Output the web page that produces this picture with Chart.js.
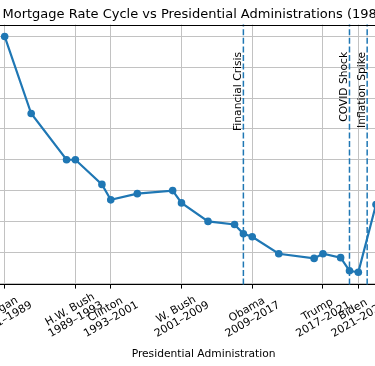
<!DOCTYPE html>
<html>
<head>
<meta charset="utf-8">
<script src="https://cdn.jsdelivr.net/npm/chart.js@4.4.1/dist/chart.umd.min.js"></script>
<style>
    html, body { margin: 0; padding: 0; background: #fff; }
    #frame { position: relative; width: 375px; height: 366px; overflow: hidden; }
    #holder { position: absolute; left: -40px; top: 0; width: 480px; height: 366px; }
</style>
</head>
<body>
<div id="frame"><div id="holder"><canvas id="chart"></canvas></div></div>
<script>
const chartTitle = 'Mortgage Rate Cycle vs Presidential Administrations (1981–2024)';
const axisTitle = 'Presidential Administration';

const years = [1981, 1984, 1988, 1989, 1992, 1993, 1996, 2000, 2001, 2004, 2007, 2008, 2009, 2012, 2016, 2017, 2019, 2020, 2021, 2023];
const rates = [18.0, 13.0, 10.0, 10.0, 8.4, 7.4, 7.8, 8.0, 7.2, 6.0, 5.8, 5.2, 5.0, 3.9, 3.6, 3.9, 3.65, 2.8, 2.7, 7.1];

const termStarts = [1981, 1989, 1993, 2001, 2009, 2017, 2021];
const termNames = ['Reagan', 'H.W. Bush', 'Clinton', 'W. Bush', 'Obama', 'Trump', 'Biden'];
const termSpans = ['1981–1989', '1989–1993', '1993–2001', '2001–2009', '2009–2017', '2017–2021', '2021–2025'];

const eventYears = [2008, 2020, 2022];
const eventLabels = ['Financial Crisis', 'COVID Shock', 'Inflation Spike'];
const eventLabelY = 17;

const rateTicks = [2, 4, 6, 8, 10, 12, 14, 16, 18];

const BLUE = '#1f77b4';
const FONT = '"DejaVu Sans", "Liberation Sans", sans-serif';
const OFFSET = 40; // canvas is shifted left inside the frame

Chart.defaults.font.family = FONT;

const overlay = {
    id: 'overlay',
    afterDatasetsDraw(chart) {
        const ctx = chart.ctx;
        const area = chart.chartArea;
        const xs = chart.scales.x;
        const ys = chart.scales.y;

        // event markers
        ctx.save();
        ctx.strokeStyle = BLUE;
        ctx.lineWidth = 1.5;
        ctx.setLineDash([6, 2.6]);
        eventYears.forEach(yr => {
            const px = xs.getPixelForValue(yr);
            ctx.beginPath();
            ctx.moveTo(px, area.bottom);
            ctx.lineTo(px, area.top);
            ctx.stroke();
        });
        ctx.restore();

        // event labels, rotated
        ctx.save();
        ctx.fillStyle = '#000';
        ctx.font = '10.7px ' + FONT;
        ctx.textAlign = 'right';
        ctx.textBaseline = 'alphabetic';
        eventYears.forEach((yr, i) => {
            const px = xs.getPixelForValue(yr);
            ctx.save();
            ctx.translate(px - 2.3, ys.getPixelForValue(eventLabelY));
            ctx.rotate(-Math.PI / 2);
            ctx.fillText(eventLabels[i], 0, 0);
            ctx.restore();
        });
        ctx.restore();
    },
    afterDraw(chart) {
        const ctx = chart.ctx;
        const area = chart.chartArea;
        const xs = chart.scales.x;

        // top spine
        ctx.save();
        ctx.strokeStyle = '#000';
        ctx.lineWidth = 1;
        ctx.beginPath();
        ctx.moveTo(area.left, Math.round(area.top) + 0.5);
        ctx.lineTo(area.right, Math.round(area.top) + 0.5);
        ctx.stroke();
        ctx.restore();

        // title
        ctx.save();
        ctx.fillStyle = '#000';
        ctx.font = '13px ' + FONT;
        ctx.textAlign = 'left';
        ctx.textBaseline = 'alphabetic';
        ctx.fillText(chartTitle, OFFSET + 2.5, 18.4);
        ctx.restore();

        // tick labels, rotated 30 degrees
        ctx.save();
        ctx.fillStyle = '#000';
        ctx.font = '10.9px ' + FONT;
        ctx.textAlign = 'center';
        ctx.textBaseline = 'alphabetic';
        termStarts.forEach((yr, i) => {
            const cx = xs.getPixelForValue(yr) - 2.5;
            const cy = area.bottom + 30;
            ctx.save();
            ctx.translate(cx, cy);
            ctx.rotate(-Math.PI / 6);
            ctx.fillText(termNames[i], 0, -2.8);
            ctx.fillText(termSpans[i], 0, 8.6);
            ctx.restore();
        });
        ctx.restore();

        // x axis title
        ctx.save();
        ctx.fillStyle = '#000';
        ctx.font = '10.7px ' + FONT;
        ctx.textAlign = 'center';
        ctx.textBaseline = 'alphabetic';
        ctx.fillText(axisTitle, (area.left + area.right) / 2, 356.5);
        ctx.restore();
    }
};

new Chart(document.getElementById('chart'), {
    type: 'line',
    data: {
        datasets: [{
            data: years.map((yr, i) => ({ x: yr, y: rates[i] })),
            borderColor: BLUE,
            backgroundColor: BLUE,
            borderWidth: 2.2,
            pointRadius: 3.8,
            pointBorderWidth: 0,
            pointBackgroundColor: BLUE,
            tension: 0
        }]
    },
    options: {
        responsive: true,
        maintainAspectRatio: false,
        animation: false,
        devicePixelRatio: 1,
        layout: { padding: { left: 26.1, right: 18.9, top: 24.6, bottom: 0 } },
        plugins: {
            legend: { display: false },
            tooltip: { enabled: false },
            title: { display: false }
        },
        scales: {
            x: {
                type: 'linear',
                min: 1978.9,
                max: 2028.1,
                afterBuildTicks: (scale) => {
                    scale.ticks = termStarts.map(v => ({ value: v }));
                },
                afterFit: (scale) => { scale.height = 366 - 284.6; },
                ticks: { display: false },
                grid: {
                    color: '#c2c2c2',
                    lineWidth: 1,
                    drawTicks: true,
                    tickLength: 4,
                    tickColor: '#000',
                    tickWidth: 1
                },
                border: { display: true, color: '#000', width: 1 }
            },
            y: {
                min: 1.9,
                max: 18.77,
                afterBuildTicks: (scale) => {
                    scale.ticks = rateTicks.map(v => ({ value: v }));
                },
                afterFit: (scale) => { scale.width = 0; },
                ticks: { display: false },
                grid: { color: '#c2c2c2', lineWidth: 1, drawTicks: false },
                border: { display: false }
            }
        }
    },
    plugins: [overlay]
});
</script>
</body>
</html>
